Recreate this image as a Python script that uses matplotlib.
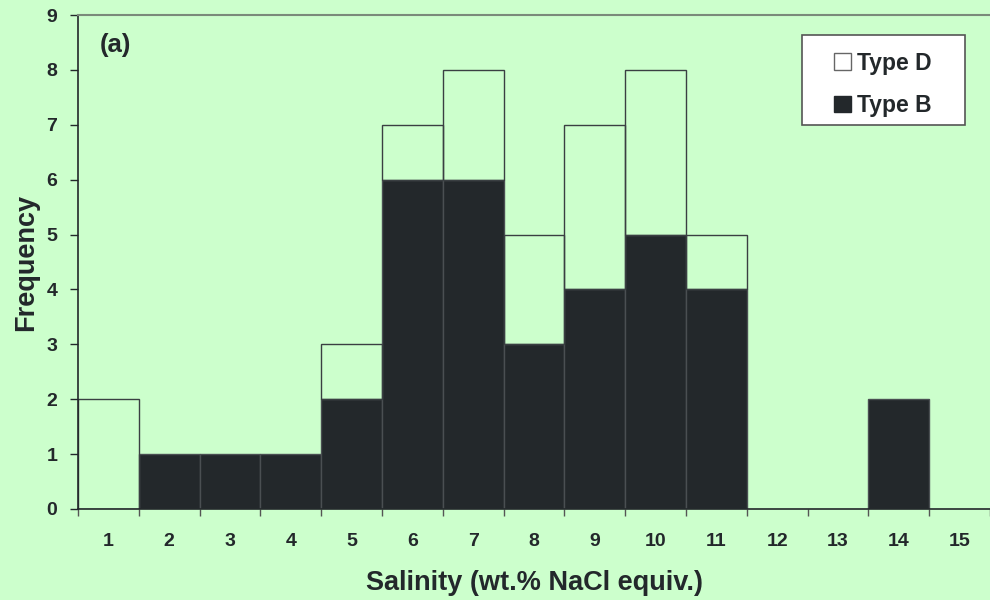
import matplotlib
matplotlib.use("Agg")
import matplotlib.pyplot as plt
from matplotlib.patches import Patch, Rectangle
import numpy as np

categories = list(range(1, 16))
type_b = [0, 1, 1, 1, 2, 6, 6, 3, 4, 5, 4, 0, 0, 2, 0]
type_d = [2, 0, 0, 0, 1, 1, 2, 2, 3, 3, 1, 0, 0, 0, 0]
yticks = list(range(0, 10))

plt.rcParams['font.family'] = ['Liberation Sans', 'DejaVu Sans']
plt.rcParams['font.weight'] = 'bold'

bg = '#CCFFCC'
dark = '#23282B'

fig = plt.figure(figsize=(9.9, 6.0), dpi=100, facecolor=bg)
ax = fig.add_axes([0.0788, 0.1517, 0.9212, 0.8233], facecolor=bg)

x = np.array(categories)
bmask = np.array(type_b) > 0
dmask = np.array(type_d) > 0
ax.bar(x[bmask], np.array(type_b)[bmask], width=1.0, color=dark, edgecolor='#4a4f52', linewidth=1.0, zorder=2)
ax.bar(x[dmask], np.array(type_d)[dmask], width=1.0, bottom=np.array(type_b)[dmask],
       facecolor='none', edgecolor='#3a3f42', linewidth=1.0, zorder=2)

ax.set_xlim(0.5, 15.5)
ax.set_ylim(0, 9)
ax.set_yticks(yticks)
ax.set_xticks(categories)
ax.set_xticks(np.arange(0.5, 15.6, 1.0), minor=True)
ax.tick_params(axis='x', which='major', length=0, pad=17, labelsize=14, labelcolor=dark)
ax.tick_params(axis='x', which='minor', length=5, width=1, color='#555555', direction='out')
ax.tick_params(axis='y', which='major', length=6, width=1, color=dark, labelsize=14, labelcolor=dark, pad=9)
for lbl in ax.get_xticklabels() + ax.get_yticklabels():
    lbl.set_fontweight('bold')

ax.spines['right'].set_visible(False)
ax.spines['top'].set_color('#7a8a7a')
ax.spines['top'].set_linewidth(1.5)
ax.spines['left'].set_color(dark)
ax.spines['bottom'].set_color(dark)
ax.spines['left'].set_linewidth(1.2)
ax.spines['bottom'].set_linewidth(1.2)

ax.set_xlabel('Salinity (wt.% NaCl equiv.)', fontsize=19.5, fontweight='bold', color=dark, labelpad=15)
ax.set_ylabel('Frequency', fontsize=19.5, fontweight='bold', color=dark, labelpad=5)

ax.text(0.024, 0.94, '(a)', transform=ax.transAxes, fontsize=18.5, fontweight='bold', color=dark, va='center', ha='left')

# legend frame drawn separately to get the wide horizontal padding
frame = Rectangle((0.7939, 0.7773), 0.9726 - 0.7939, 0.9595 - 0.7773, transform=ax.transAxes,
                  facecolor='white', edgecolor='#555555', linewidth=1.2, zorder=4)
ax.add_patch(frame)

handles = [Patch(facecolor='white', edgecolor='#666666', linewidth=1, label='Type D'),
           Patch(facecolor=dark, edgecolor=dark, linewidth=1, label='Type B')]
leg = ax.legend(handles=handles, loc='upper left', bbox_to_anchor=(0.829, 0.926), frameon=False,
                fontsize=16.5, handlelength=0.75, handleheight=0.75, handletextpad=0.25,
                borderpad=0, labelspacing=0.85, borderaxespad=0)
leg.set_zorder(5)
for t in leg.get_texts():
    t.set_fontweight('bold')
    t.set_color(dark)

fig.savefig('out.png', dpi=100, facecolor=bg)
